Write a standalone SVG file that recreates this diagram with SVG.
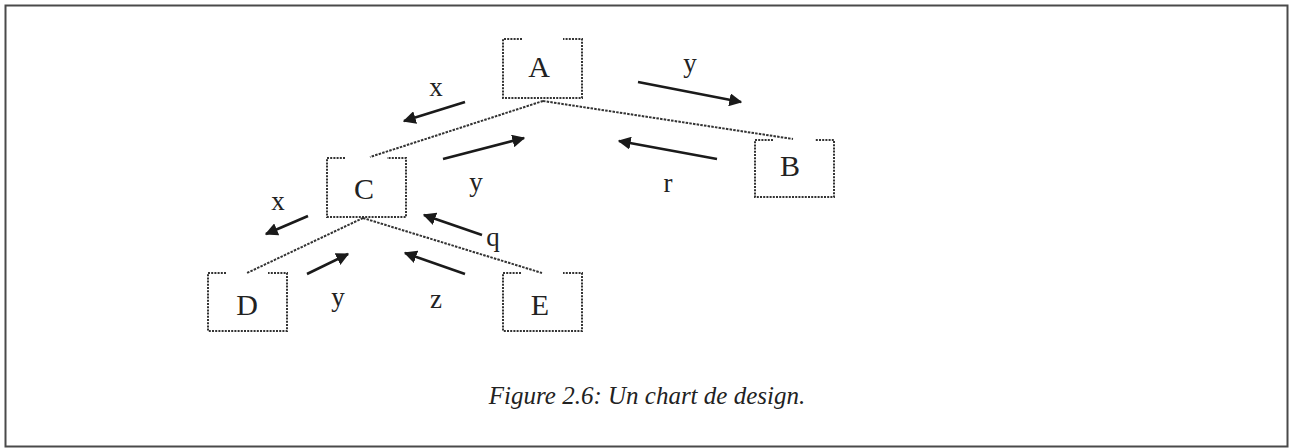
<svg xmlns="http://www.w3.org/2000/svg" width="1294" height="448" viewBox="0 0 1294 448">
<style>
.frame{fill:none;stroke:#4a4a4a;stroke-width:2}
.box{fill:none;stroke:#333;stroke-width:2;stroke-dasharray:2 1.2}
.tree{fill:none;stroke:#333;stroke-width:2;stroke-dasharray:2.5 1.2}
.arr{fill:none;stroke:#1a1a1a;stroke-width:2.6}
.nl{font-family:"Liberation Serif",serif;font-size:30px;fill:#222;text-anchor:middle}
.el{font-family:"Liberation Serif",serif;font-size:27px;fill:#222;text-anchor:middle}
.cap{font-family:"Liberation Serif",serif;font-size:25px;font-style:italic;fill:#222;text-anchor:middle}
</style>
<defs>
<marker id="ah" viewBox="0 0 10 10" refX="9" refY="5" markerWidth="5" markerHeight="5" markerUnits="strokeWidth" orient="auto">
<path d="M0,0 L10,5 L0,10 z" fill="#1a1a1a"/>
</marker>
</defs>
<rect class="frame" x="5.5" y="5.5" width="1282" height="441"/>
<g id="connectors">
<line class="tree" x1="543" y1="101" x2="370" y2="157"/>
<line class="tree" x1="543" y1="101" x2="793" y2="139"/>
<line class="tree" x1="363" y1="218" x2="247" y2="273"/>
<line class="tree" x1="363" y1="218" x2="542" y2="273"/>
<line class="arr" x1="465" y1="102" x2="404" y2="121" marker-end="url(#ah)"/>
<line class="arr" x1="638" y1="82" x2="741" y2="102" marker-end="url(#ah)"/>
<line class="arr" x1="443" y1="159" x2="524" y2="138" marker-end="url(#ah)"/>
<line class="arr" x1="717" y1="159" x2="619" y2="141" marker-end="url(#ah)"/>
<line class="arr" x1="308" y1="216" x2="266" y2="234" marker-end="url(#ah)"/>
<line class="arr" x1="482" y1="235" x2="424" y2="215" marker-end="url(#ah)"/>
<line class="arr" x1="307" y1="274" x2="348" y2="254" marker-end="url(#ah)"/>
<line class="arr" x1="465" y1="274" x2="405" y2="253" marker-end="url(#ah)"/>
<text class="el" x="436" y="96">x</text>
<text class="el" x="690" y="72">y</text>
<text class="el" x="476" y="191">y</text>
<text class="el" x="668" y="192">r</text>
<text class="el" x="278" y="210">x</text>
<text class="el" x="493" y="246">q</text>
<text class="el" x="338" y="306">y</text>
<text class="el" x="436" y="308">z</text>
</g>
<g id="nodeA">
<path class="box" d="M522,39 H503 V98 H582 V39 H563"/>
<text class="nl" x="539" y="77">A</text>
</g>
<g id="nodeB">
<path class="box" d="M773,140 H755 V197 H834 V140 H815"/>
<text class="nl" x="790" y="176">B</text>
</g>
<g id="nodeC">
<path class="box" d="M345,158 H327 V217 H406 V158 H387"/>
<text class="nl" x="364" y="199">C</text>
</g>
<g id="nodeD">
<path class="box" d="M226,273 H208 V331 H287 V273 H268"/>
<text class="nl" x="247" y="315">D</text>
</g>
<g id="nodeE">
<path class="box" d="M521,273 H503 V331 H582 V273 H563"/>
<text class="nl" x="540" y="315">E</text>
</g>
<text class="cap" x="647" y="404">Figure 2.6: Un chart de design.</text>
</svg>
